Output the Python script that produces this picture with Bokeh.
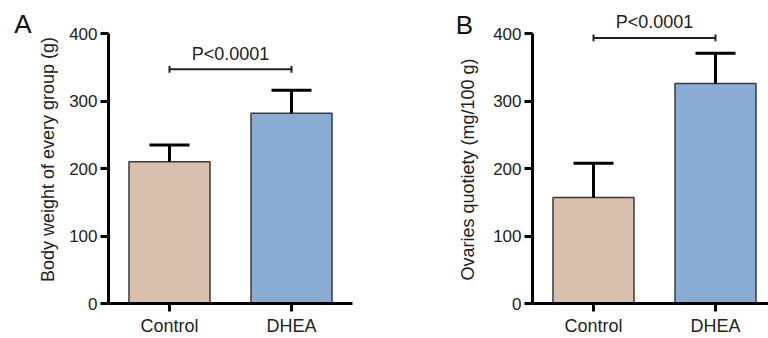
from bokeh.plotting import figure
from bokeh.models import Range1d, FixedTicker, Label, ColumnDataSource
from bokeh.layouts import row
from bokeh.embed import file_html
from bokeh.resources import INLINE
import math

categories = ["Control", "DHEA"]
weight_mean = [210, 282]
weight_sd = [25, 34]
quot_mean = [157, 326]
quot_sd = [51, 45]
p_text = "P<0.0001"
y_ticks = [0, 100, 200, 300, 400]
ylabel_a = "Body weight of every group (g)"
ylabel_b = "Ovaries quotiety (mg/100 g)"

FILLS = ["#D9BFAD", "#8AABD3"]
FONT = "Liberation Sans"
H = 338
BOTTOM = 33
FRAME_H = H - BOTTOM
PX_PER_UNIT = 0.6792


def side(width, letter, letter_xy, ylabel, ylabel_xy):
    s = figure(width=width, height=H, output_backend="svg", toolbar_location=None,
               x_range=Range1d(0, 1), y_range=Range1d(0, 1),
               x_axis_location=None, y_axis_location=None,
               min_border_left=0, min_border_right=0, min_border_top=0,
               min_border_bottom=BOTTOM)
    s.outline_line_color = None
    s.xgrid.visible = False
    s.ygrid.visible = False
    s.add_layout(Label(x=ylabel_xy[0], y=FRAME_H - ylabel_xy[1], x_units="screen",
                       y_units="screen", text=ylabel, angle=math.pi / 2, text_align="center",
                       text_baseline="middle", text_font=FONT, text_font_size="18px",
                       text_color="#222"))
    s.add_layout(Label(x=letter_xy[0], y=FRAME_H - letter_xy[1], x_units="screen",
                       y_units="screen", text=letter, text_align="center",
                       text_baseline="middle", text_font=FONT, text_font_size="26px",
                       text_color="#111"))
    return s


def panel(means, sds, width, left, frame_w, bracket_y, ptext_y):
    xs = [1, 2]
    xend = 0.5 + frame_w / 122.0
    p = figure(width=width, height=H, output_backend="svg", toolbar_location=None,
               x_range=Range1d(0.5, xend), y_range=Range1d(0, FRAME_H / PX_PER_UNIT),
               min_border_left=left, min_border_right=width - left - frame_w,
               min_border_top=0, min_border_bottom=BOTTOM)
    p.outline_line_color = None
    p.xgrid.visible = False
    p.ygrid.visible = False
    p.background_fill_color = "white"
    p.border_fill_color = "white"

    src = ColumnDataSource(dict(x=xs, top=means, color=FILLS,
                                hi=[m + s for m, s in zip(means, sds)]))
    p.vbar(x="x", top="top", bottom=0, width=0.664, fill_color="color",
           line_color="#3a3a3a", line_width=1.5, source=src)
    p.segment(x0="x", y0="top", x1="x", y1="hi", line_color="black", line_width=3, source=src)
    cap = 0.164
    p.segment(x0=[x - cap for x in xs], y0=src.data["hi"], x1=[x + cap for x in xs],
              y1=src.data["hi"], line_color="black", line_width=3)

    # significance bracket
    p.segment(x0=[1], y0=[bracket_y], x1=[2], y1=[bracket_y], line_color="#222", line_width=2)
    p.segment(x0=[1, 2], y0=[bracket_y - 5, bracket_y - 5], x1=[1, 2],
              y1=[bracket_y + 5, bracket_y + 5], line_color="#222", line_width=2)
    p.add_layout(Label(x=1.5, y=ptext_y, text=p_text, text_align="center",
                       text_baseline="middle", text_font=FONT, text_font_size="18px",
                       text_color="#222"))

    for ax in (p.xaxis[0], p.yaxis[0]):
        ax.axis_line_width = 3
        ax.axis_line_color = "black"
        ax.major_tick_line_width = 3
        ax.major_tick_line_color = "black"
        ax.major_tick_out = 8
        ax.major_tick_in = 0
        ax.minor_tick_line_color = None
        ax.major_label_text_font = FONT
        ax.major_label_text_font_size = "17px"
        ax.major_label_text_color = "#222"

    p.xaxis.ticker = FixedTicker(ticks=xs)
    p.xaxis.major_label_overrides = {x: c for x, c in zip(xs, categories)}
    p.xaxis.major_label_standoff = 4
    p.xaxis.major_label_text_font_size = "18px"
    p.yaxis.ticker = FixedTicker(ticks=y_ticks)
    p.yaxis.bounds = (0, 400)
    p.yaxis.major_label_standoff = 3
    return p


sa = side(66, "A", (22.5, 25), ylabel_a, (47, 161))
pa = panel(weight_mean, weight_sd, 318, 42, 244, 347, 370)
sb = side(106, "B", (80, 26.5), ylabel_b, (83, 171))
pb = panel(quot_mean, quot_sd, 278, 42, 236, 393.6, 417)

lay = row(sa, pa, sb, pb, spacing=0)
open("out.html", "w").write(file_html(lay, INLINE))
